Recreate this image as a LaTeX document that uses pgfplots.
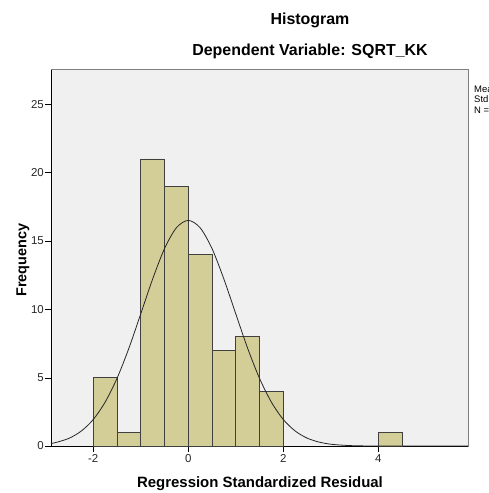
\documentclass[border=0pt]{standalone}
\usepackage{pgfplots}
\pgfplotsset{compat=1.18}
\usepackage{fontspec}
\setmainfont{Liberation Sans}
\definecolor{barfill}{HTML}{D3CE98}
\definecolor{plotbg}{HTML}{F0F0F0}
\begin{document}
\begin{tikzpicture}
\useasboundingbox (0,0) rectangle (489bp,493bp);
\clip (0,0) rectangle (489bp,493bp);
\begin{axis}[
  at={(51bp,47bp)}, anchor=south west,
  scale only axis,
  width=417bp, height=376bp,
  xmin=-2.89, xmax=5.89,
  ymin=0, ymax=27.5,
  xtick={-2,0,2,4},
  ytick={0,5,10,15,20,25},
  axis lines=left,
  axis line style={-, black},
  tick align=outside,
  major tick length=6bp,
  tick style={black},
  axis background/.style={fill=plotbg, draw=gray, line width=1bp},
  /pgf/number format/assume math mode=true,
  ticklabel style={font=\fontsize{11.5}{13}\selectfont, text=black!85},
  yticklabel style={inner sep=1bp},
  xticklabel style={inner sep=2bp},
  clip=false,
]
\addplot[ybar, bar width=0.5, bar shift=0pt, fill=barfill, draw=black!75, line width=0.6bp]
  coordinates {
  (-1.75,5) (-1.25,1) (-0.75,21) (-0.25,19) (0.25,14)
  (0.75,7) (1.25,8) (1.75,4) (4.25,1)
};
\addplot[smooth, black!85, line width=0.8bp, mark=none] coordinates {
  (-2.89,0.18) (-2.75,0.29) (-2.5,0.58) (-2.25,1.10) (-2,1.94)
  (-1.75,3.21) (-1.5,4.95) (-1.25,7.15) (-1,9.67) (-0.75,12.21)
  (-0.5,14.44) (-0.25,15.96) (0,16.5) (0.25,15.96) (0.5,14.44)
  (0.75,12.21) (1,9.67) (1.25,7.15) (1.5,4.95) (1.75,3.21)
  (2,1.94) (2.25,1.10) (2.5,0.58) (2.75,0.29) (3,0.13)
  (3.25,0.06) (3.5,0.02) (4,0.0) (5.89,0)
};
\end{axis}
\node[font=\bfseries\fontsize{16}{18}\selectfont] at (310bp,473bp) {Histogram};
\node[font=\bfseries\fontsize{16}{18}\selectfont] at (310bp,442bp) {Dependent Variable: SQRT\_KK};
\node[font=\bfseries\fontsize{14.5}{16}\selectfont, rotate=90] at (23bp,233bp) {Frequency};
\node[font=\bfseries\fontsize{15}{17}\selectfont] at (260bp,9bp) {Regression Standardized Residual};
\begin{scope}[every node/.style={anchor=west, inner sep=0pt, font=\fontsize{9.5}{11}\selectfont}]
\node at (474bp,404bp) {Mean = 1.09E-15};
\node at (474bp,393.5bp) {Std. Dev. = 0.987};
\node at (474bp,383bp) {N = 80};
\end{scope}
\end{tikzpicture}
\end{document}
